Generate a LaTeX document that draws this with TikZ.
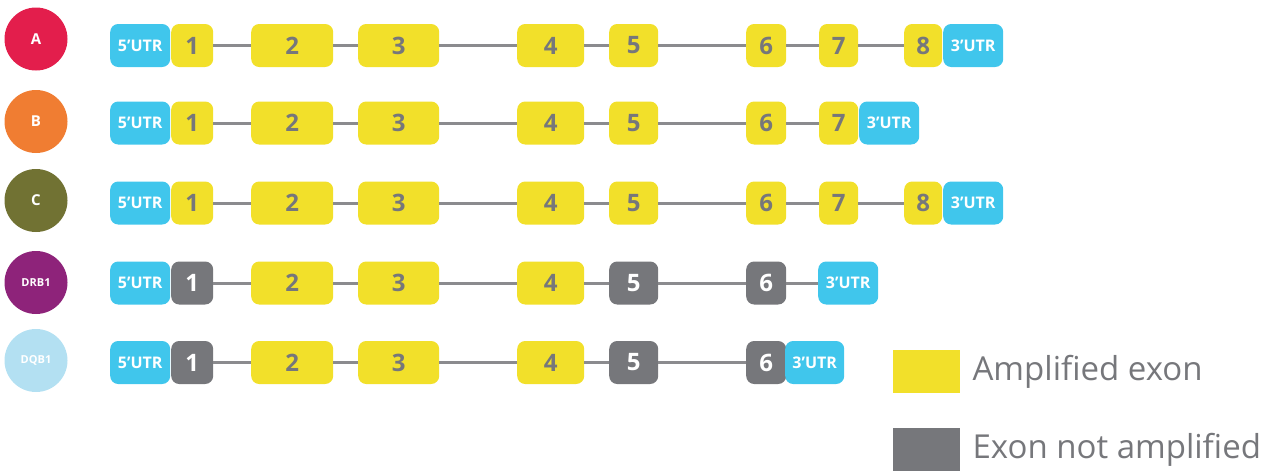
\documentclass[tikz,border=0pt]{standalone}
\usepackage{fontspec}
\setmainfont{Open Sans}
\usepackage{tikz}
\usetikzlibrary{positioning}
\definecolor{utrblue}{HTML}{40C6EC}
\definecolor{exonyellow}{HTML}{F2E02A}
\definecolor{exongray}{HTML}{76777B}
\definecolor{introngray}{HTML}{8B8B8E}
\definecolor{alleleA}{HTML}{E31E4C}
\definecolor{alleleB}{HTML}{F07D32}
\definecolor{alleleC}{HTML}{717233}
\definecolor{alleleDRB}{HTML}{8E237A}
\definecolor{alleleDQB}{HTML}{B3E0F2}
\tikzstyle{gene} = [circle, minimum size=63pt, inner sep=0pt, text=white, font=\bfseries\fontsize{15}{15}\selectfont]
\tikzstyle{utr} = [rectangle, rounded corners=8pt, anchor=west, minimum height=43pt, minimum width=60pt, inner sep=0pt, fill=utrblue, text=white, font=\bfseries\fontsize{16}{16}\selectfont]
\tikzstyle{amp} = [rectangle, rounded corners=8pt, anchor=west, minimum height=43pt, inner sep=0pt, fill=exonyellow, text=exongray, font=\bfseries\fontsize{24}{24}\selectfont]
\tikzstyle{noamp} = [amp, fill=exongray, text=white]
\tikzstyle{legendbox} = [rectangle, anchor=west, minimum width=67pt, minimum height=43pt, inner sep=0pt]
\tikzstyle{legendtext} = [anchor=west, inner sep=0pt, text=exongray, font=\fontsize{33}{33}\selectfont]
\tikzstyle{intron} = [line width=3pt, color=introngray]

\begin{document}
\begin{tikzpicture}[x=1pt, y=-1pt]
    \useasboundingbox (0,0) rectangle (1275,471);
    % gene circles
    \node [gene, fill=alleleA] (genea) at (36,39) {A};
    \node [gene, fill=alleleB] (geneb) at (36,121.5) {B};
    \node [gene, fill=alleleC] (genec) at (36,200.5) {C};
    \node [gene, fill=alleleDRB, font=\bfseries\fontsize{11}{11}\selectfont] (genedrb) at (36,282.5) {DRB1};
    \node [gene, fill=alleleDQB, font=\bfseries\fontsize{11}{11}\selectfont] (genedqb) at (36,360.5) {DQB1};

    % row A
    \node [utr] (a5utr) at (110,45.5) {5’UTR};
    \node [amp, minimum width=42pt] (a1) at (171,45.5) {1};
    \node [amp, minimum width=82pt] (a2) at (251,45.5) {2};
    \node [amp, minimum width=81pt] (a3) at (358,45.5) {3};
    \node [amp, minimum width=67pt] (a4) at (517,45.5) {4};
    \node [amp, minimum width=49pt] (a5) at (609,45.5) {5};
    \node [amp, minimum width=40pt] (a6) at (746,45.5) {6};
    \node [amp, minimum width=39pt] (a7) at (819,45.5) {7};
    \node [amp, minimum width=38pt] (a8) at (904,45.5) {8};
    \node [utr] (a3utr) at (943,45.5) {3’UTR};
    \draw [intron] (a1) -- (a2);
    \draw [intron] (a2) -- (a3);
    \draw [intron] (a3) -- (a4);
    \draw [intron] (a4) -- (a5);
    \draw [intron] (a5) -- (a6);
    \draw [intron] (a6) -- (a7);
    \draw [intron] (a7) -- (a8);

    % row B
    \node [utr] (b5utr) at (110,123) {5’UTR};
    \node [amp, minimum width=42pt] (b1) at (171,123) {1};
    \node [amp, minimum width=82pt] (b2) at (251,123) {2};
    \node [amp, minimum width=81pt] (b3) at (358,123) {3};
    \node [amp, minimum width=67pt] (b4) at (517,123) {4};
    \node [amp, minimum width=49pt] (b5) at (609,123) {5};
    \node [amp, minimum width=40pt] (b6) at (746,123) {6};
    \node [amp, minimum width=39pt] (b7) at (819,123) {7};
    \node [utr] (b3utr) at (859,123) {3’UTR};
    \draw [intron] (b1) -- (b2);
    \draw [intron] (b2) -- (b3);
    \draw [intron] (b3) -- (b4);
    \draw [intron] (b4) -- (b5);
    \draw [intron] (b5) -- (b6);
    \draw [intron] (b6) -- (b7);

    % row C
    \node [utr] (c5utr) at (110,203) {5’UTR};
    \node [amp, minimum width=42pt] (c1) at (171,203) {1};
    \node [amp, minimum width=82pt] (c2) at (251,203) {2};
    \node [amp, minimum width=81pt] (c3) at (358,203) {3};
    \node [amp, minimum width=67pt] (c4) at (517,203) {4};
    \node [amp, minimum width=49pt] (c5) at (609,203) {5};
    \node [amp, minimum width=40pt] (c6) at (746,203) {6};
    \node [amp, minimum width=39pt] (c7) at (819,203) {7};
    \node [amp, minimum width=38pt] (c8) at (904,203) {8};
    \node [utr] (c3utr) at (943,203) {3’UTR};
    \draw [intron] (c1) -- (c2);
    \draw [intron] (c2) -- (c3);
    \draw [intron] (c3) -- (c4);
    \draw [intron] (c4) -- (c5);
    \draw [intron] (c5) -- (c6);
    \draw [intron] (c6) -- (c7);
    \draw [intron] (c7) -- (c8);

    % row DRB1
    \node [utr] (drb5utr) at (110,283) {5’UTR};
    \node [noamp, minimum width=42pt] (drb1) at (171,283) {1};
    \node [amp, minimum width=82pt] (drb2) at (251,283) {2};
    \node [amp, minimum width=81pt] (drb3) at (358,283) {3};
    \node [amp, minimum width=67pt] (drb4) at (517,283) {4};
    \node [noamp, minimum width=49pt] (drb5) at (609,283) {5};
    \node [noamp, minimum width=40pt] (drb6) at (746,283) {6};
    \node [utr] (drb3utr) at (818,283) {3’UTR};
    \draw [intron] (drb1) -- (drb2);
    \draw [intron] (drb2) -- (drb3);
    \draw [intron] (drb3) -- (drb4);
    \draw [intron] (drb4) -- (drb5);
    \draw [intron] (drb5) -- (drb6);
    \draw [intron] (drb6) -- (drb3utr);

    % row DQB1
    \node [utr] (dqb5utr) at (110,362.5) {5’UTR};
    \node [noamp, minimum width=42pt] (dqb1) at (171,362.5) {1};
    \node [amp, minimum width=82pt] (dqb2) at (251,362.5) {2};
    \node [amp, minimum width=81pt] (dqb3) at (358,362.5) {3};
    \node [amp, minimum width=67pt] (dqb4) at (517,362.5) {4};
    \node [noamp, minimum width=49pt] (dqb5) at (609,362.5) {5};
    \node [noamp, minimum width=40pt] (dqb6) at (746,362.5) {6};
    \node [utr, minimum width=59pt] (dqb3utr) at (785,362.5) {3’UTR};
    \draw [intron] (dqb1) -- (dqb2);
    \draw [intron] (dqb2) -- (dqb3);
    \draw [intron] (dqb3) -- (dqb4);
    \draw [intron] (dqb4) -- (dqb5);
    \draw [intron] (dqb5) -- (dqb6);

    % legend
    \node [legendbox, fill=exonyellow] (keyamp) at (893,371.5) {};
    \node [legendtext, right=12pt of keyamp] (keyamptext) {Amplified exon};
    \node [legendbox, fill=exongray] (keynoamp) at (893,449.5) {};
    \node [legendtext, right=12pt of keynoamp] (keynoamptext) {Exon not amplified};
\end{tikzpicture}
\end{document}
